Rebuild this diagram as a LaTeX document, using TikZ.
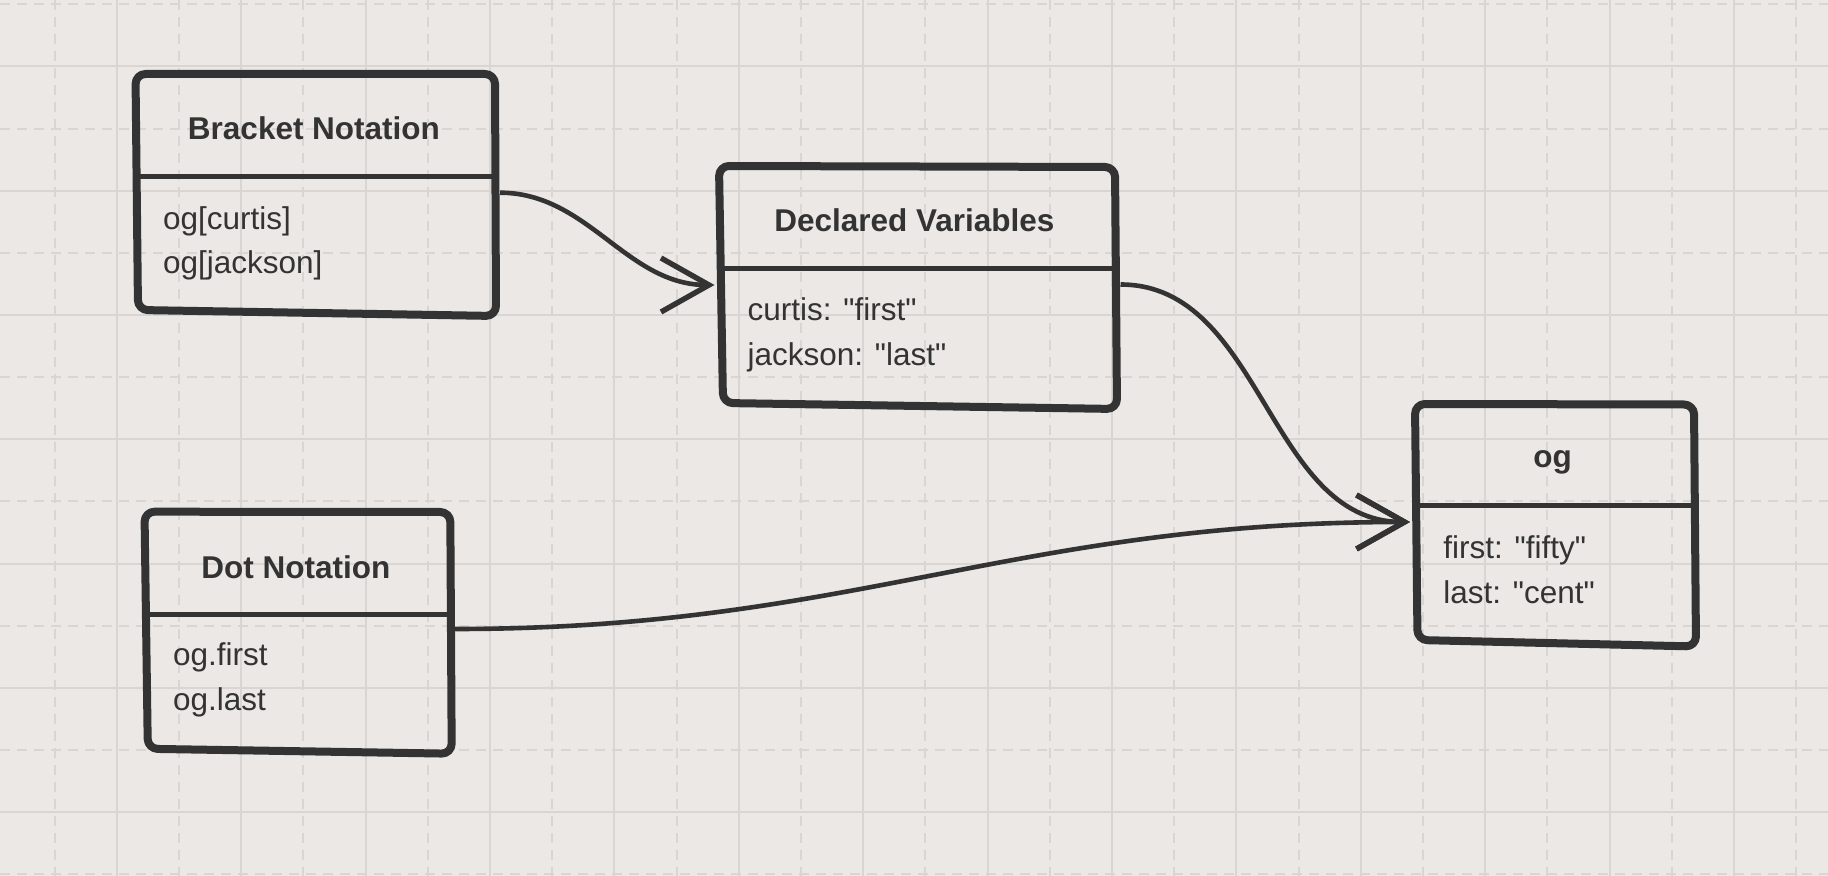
\documentclass[tikz,border=0pt]{standalone}
\usepackage{fontspec}
\setmainfont{Liberation Sans}[Ligatures=TeXOff]
\usetikzlibrary{arrows.meta}
\definecolor{bg}{HTML}{EBE8E5}
\definecolor{gridc}{HTML}{D8D5D2}
\definecolor{ink}{HTML}{333333}
\begin{document}
\begin{tikzpicture}[x=0.5pt,y=-0.5pt,
  gridsolid/.style={draw=gridc,line width=1pt},
  griddash/.style={draw=gridc,line width=1pt,dash pattern=on 5pt off 3.5pt},
  boxline/.style={draw=ink,line width=4pt,rounded corners=5pt,line join=round},
  divline/.style={draw=ink,line width=2.5pt},
  title/.style={font=\fontsize{15.75}{19}\selectfont\bfseries,text=ink,anchor=base,inner sep=0pt},
  body/.style={font=\fontsize{15.75}{19}\selectfont,text=ink,anchor=base west,inner sep=0pt},
  conn/.style={draw=ink,line width=2.3pt,-{Straight Barb[length=24pt,width=27pt,line width=2.7pt]}},
]
\fill[bg] (0,0) rectangle (1828,876);
\useasboundingbox (0,0) rectangle (1828,876);
% grid
\foreach \j [evaluate=\j as \xx using 54.5+62.2*\j] in {0,...,28} {
  \ifodd\j \draw[gridsolid] (\xx,0) -- (\xx,876);
  \else \draw[griddash] (\xx,0) -- (\xx,876); \fi
}
\foreach \i [evaluate=\i as \yy using 4.3+62.15*\i] in {0,...,14} {
  \ifodd\i \draw[gridsolid] (0,\yy) -- (1828,\yy);
  \else \draw[griddash] (0,\yy) -- (1828,\yy); \fi
}
% Bracket Notation
\draw[divline] (137,176.3) -- (495,176.3);
\draw[boxline] (135.5,74) -- (495,74) -- (496,316) -- (138,310) -- cycle;
\node[title] (bntitle) at (314,139.3) {Bracket Notation};
\node[body] (bnl1) at (162.6,230) {og[curtis]};
\node[body] (bnl2) at (162.6,274) {og[jackson]};
% Declared Variables
\draw[divline] (721,268.3) -- (1116,268.3);
\draw[boxline] (719,166) -- (1115,167) -- (1117,409) -- (723,403) -- cycle;
\node[title] (dvtitle) at (914.4,231.7) {Declared Variables};
\node[body] (dvl1) at (747.3,321) {curtis: "first"};
\node[body] (dvl2) at (747.3,366) {jackson: "last"};
% og
\draw[divline] (1416,505.8) -- (1695,505.8);
\draw[boxline] (1415,404) -- (1694,404.5) -- (1696,646.5) -- (1417.5,640) -- cycle;
\node[title] (ogtitle) at (1552.5,468) {og};
\node[body] (ogl1) at (1443,558.3) {first: "fifty"};
\node[body] (ogl2) at (1443,603.3) {last: "cent"};
% Dot Notation
\draw[divline] (146,614.2) -- (451,614.2);
\draw[boxline] (144.5,511.7) -- (450.3,512) -- (451.7,753.7) -- (147.8,748.8) -- cycle;
\node[title] (dntitle) at (295.8,578.3) {Dot Notation};
\node[body] (dnl1) at (172.7,666) {og.first};
\node[body] (dnl2) at (172.7,711) {og.last};
% connector ends
\coordinate (bnout) at (500,192.7);
\coordinate (dvin) at (714.5,285);
\coordinate (dvout) at (1120.5,284.5);
\coordinate (ogin) at (1410,522);
\coordinate (dnout) at (455,629);
% connectors
\draw[conn] (bnout) .. controls +(88,0) and +(-88,0) .. (dvin);
\draw[conn] (dvout) .. controls +(142,0) and +(-142,0) .. (ogin);
\draw[conn] (dnout) .. controls +(398,0) and +(-398,0) .. (ogin);
\end{tikzpicture}
\end{document}
